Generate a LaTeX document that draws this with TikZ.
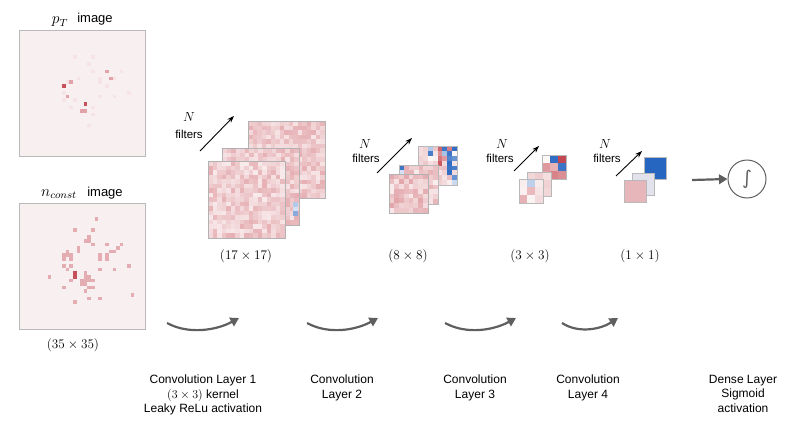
\documentclass[tikz,border=0pt]{standalone}
\usepackage{fontspec}
\setsansfont{Liberation Sans}
\newfontfamily\djv{DejaVu Sans}
\usetikzlibrary{arrows.meta}
\definecolor{bgpix}{RGB}{248,240,240}
\definecolor{pk}{RGB}{196,72,82}
\definecolor{bl}{RGB}{38,102,192}
\definecolor{arr}{RGB}{95,95,95}
\definecolor{lav}{RGB}{226,226,236}
\newcommand\randlayer[8]{%
 \pgfmathsetmacro\cellsz{#3/#4}%
 \pgfmathtruncatemacro\nlast{#4-1}%
 \foreach \i in {0,...,\nlast}{\foreach \j in {0,...,\nlast}{%
   \pgfmathsetmacro\rr{rnd}%
   \ifdim\rr pt<#7pt
     \pgfmathtruncatemacro\vv{#8+(100-#8)*rnd}%
     \fill[bl!\vv!white] ({#1+\i*\cellsz},{#2+\j*\cellsz}) rectangle ++(\cellsz,\cellsz);
   \else
     \pgfmathtruncatemacro\vv{#5+#6*rnd}%
     \fill[pk!\vv!white] ({#1+\i*\cellsz},{#2+\j*\cellsz}) rectangle ++(\cellsz,\cellsz);
   \fi
 }}%
 \draw[gray!60, line width=0.6pt] (#1,#2) rectangle ++(#3,#3);
}
\tikzset{
  lbl/.style={font=\sffamily\fontsize{12}{14.5}\selectfont, align=center, inner sep=0pt},
  imglbl/.style={font=\sffamily\fontsize{13}{15}\selectfont, inner sep=0pt, anchor=base},
  symlbl/.style={font=\fontsize{12}{14}\selectfont, inner sep=0pt, anchor=base, scale=1.3},
  mathlbl/.style={font=\fontsize{12}{14}\selectfont, inner sep=0pt, scale=1.1},
  flbl/.style={font=\sffamily\fontsize{11.5}{13}\selectfont, inner sep=0pt},
  nfarrow/.style={-{Stealth[length=7pt,width=5pt]}, line width=0.9pt, black},
  convarrow/.style={-{Triangle[length=8.5pt,width=9.5pt]}, line width=2.2pt, arr},
  framebox/.style={draw=gray!55, line width=0.7pt},
}
\begin{document}
\begin{tikzpicture}[x=1pt,y=-1pt]
\useasboundingbox (0,0) rectangle (789,444);
\pgfmathsetseed{1234}
% ---------- input images ----------
\fill[bgpix] (19,30) rectangle (145,156);
\foreach \c/\r in {12/15,18/20}
  \fill[pk!95] ({19+\c*3.6},{30+\r*3.6}) rectangle ++(3.6,3.6);
\foreach \c/\r in {17/22,18/22,24/11,25/13,13/18,14/14}
  \fill[pk!50] ({19+\c*3.6},{30+\r*3.6}) rectangle ++(3.6,3.6);
\foreach \c/\r in {26/13,28/11,13/14,14/21,15/19,16/13,15/7,19/9,20/7,20/11,22/14,24/15,22/18,20/21,12/17,19/26,20/23,30/17,26/18,22/13,12/19}
  \fill[pk!15] ({19+\c*3.6},{30+\r*3.6}) rectangle ++(3.6,3.6);
\draw[framebox] (19,30) rectangle (145,156);
\node[symlbl] (ptsym) at (60,24) {$p_T$};
\node[imglbl] (ptimg) at (95,23) {image};

\fill[bgpix] (19,203) rectangle (145,329);
\foreach \c/\r in {15/19,15/20}
  \fill[pk!95] ({19+\c*3.6},{203+\r*3.6}) rectangle ++(3.6,3.6);
\foreach \c/\r in {21/4,15/7,20/7,19/9,18/10,19/10,20/11,24/11,28/11,16/12,16/13,13/13,12/14,13/14,14/14,12/15,14/15,25/13,26/13,27/12,22/14,22/15,24/14,24/15,12/17,14/17,13/18,22/18,26/18,30/17,8/20,14/21,18/19,18/20,19/20,17/21,18/21,19/21,20/21,12/23,17/22,19/23,20/23,18/24,19/26,22/26,15/27,31/25,18/22}
  \fill[pk!45] ({19+\c*3.6},{203+\r*3.6}) rectangle ++(3.6,3.6);
\draw[framebox] (19,203) rectangle (145,329);
\node[symlbl] (ncsym) at (59,196) {$n_{const}$};
\node[imglbl] (ncimg) at (105,196) {image};
\node[mathlbl] (insize) at (73,345) {$(35\times35)$};

% ---------- layer 1 (17x17) ----------
\randlayer{248}{121}{77}{17}{14}{30}{0}{0}
\randlayer{222}{148}{77}{17}{14}{30}{0}{0}
\fill[bl!35!white] (293.3,202.3) rectangle ++(4.53,4.53);
\fill[bl!55!white] (293.3,211.4) rectangle ++(4.53,4.53);
\fill[bl!20!white] (293.3,206.9) rectangle ++(4.53,4.53);
\randlayer{208}{161}{77}{17}{12}{32}{0}{0}
\coordinate (n1s) at (200,151); \coordinate (n1e) at (234,116);
\draw[nfarrow] (n1s) -- (n1e);
\node[mathlbl] (n1N) at (189,117) {$N$};
\node[flbl] (n1f) at (189,134) {filters};
\node[mathlbl] (s1) at (246,256) {$(17\times17)$};

% ---------- layer 2 (8x8) ----------
\def\cy{4.875}
\foreach \col [count=\k from 0] in {
 pk!20,pk!25,bl!35,pk!30,pk!85,bl!90,pk!70,bl!95,
 pk!18,pk!22,bl!85,pk!15,pk!60,bl!40,bl!90,pk!5,
 pk!25,pk!20,pk!5,pk!8,pk!75,pk!55,bl!80,bl!70,
 pk!22,pk!30,pk!18,pk!25,pk!90,pk!20,bl!95,pk!15,
 pk!20,pk!25,pk!20,pk!30,pk!30,pk!35,bl!90,bl!85,
 pk!25,pk!20,pk!22,pk!28,pk!15,pk!25,bl!95,pk!20,
 pk!20,pk!25,pk!20,pk!25,pk!30,pk!15,pk!35,bl!70,
 pk!22,pk!20,pk!25,pk!20,pk!25,pk!20,pk!10,bl!25}{
  \pgfmathtruncatemacro\ci{mod(\k,8)}
  \pgfmathtruncatemacro\ri{div(\k,8)}
  \fill[\col] ({418+\ci*\cy},{146+\ri*\cy}) rectangle ++(\cy,\cy);
}
\draw[framebox] (418,146) rectangle ++(39,39);
\randlayer{399}{165}{39}{8}{10}{35}{0}{0}
\fill[bl!90] (399,165) rectangle ++(\cy,\cy);
\fill[bl!20] (399,169.875) rectangle ++(\cy,\cy);
\draw[framebox] (399,165) rectangle ++(39,39);
\randlayer{389}{174}{39}{8}{12}{38}{0}{0}
\coordinate (n2s) at (377,173); \coordinate (n2e) at (412,138);
\draw[nfarrow] (n2s) -- (n2e);
\node[mathlbl] (n2N) at (365,144) {$N$};
\node[flbl] (n2f) at (366,158) {filters};
\node[mathlbl] (s2) at (408,256) {$(8\times8)$};

% ---------- layer 3 (3x3) ----------
\def\cz{8.2}
\foreach \c/\r/\col in {0/0/pk!4,1/0/bl!95,2/0/pk!100,0/1/pk!55,1/1/pk!42,2/1/bl!90,0/2/pk!50,1/2/pk!68,2/2/pk!62}
  \fill[\col] ({542+\c*\cz},{155+\r*\cz}) rectangle ++(\cz,\cz);
\draw[framebox] (542,155) rectangle ++(24.6,24.6);
\foreach \c/\r/\col in {0/0/pk!22,1/0/pk!28,2/0/pk!18,0/1/pk!30,1/1/pk!20,2/1/pk!25,0/2/pk!18,1/2/pk!26,2/2/pk!22}
  \fill[\col] ({527+\c*\cz},{172+\r*\cz}) rectangle ++(\cz,\cz);
\draw[framebox] (527,172) rectangle ++(24.6,24.6);
\foreach \c/\r/\col in {0/0/pk!10,1/0/bl!30,2/0/pk!12,0/1/pk!8,1/1/pk!38,2/1/pk!15,0/2/pk!42,1/2/pk!6,2/2/pk!20}
  \fill[\col] ({519+\c*\cz},{179+\r*\cz}) rectangle ++(\cz,\cz);
\draw[framebox] (519,179) rectangle ++(24.6,24.6);
\coordinate (n3s) at (514,171); \coordinate (n3e) at (539,146);
\draw[nfarrow] (n3s) -- (n3e);
\node[mathlbl] (n3N) at (502,144) {$N$};
\node[flbl] (n3f) at (500,158) {filters};
\node[mathlbl] (s3) at (530,256) {$(3\times3)$};

% ---------- layer 4 (1x1) ----------
\fill[bl] (644,157) rectangle ++(22,22); \draw[framebox] (644,157) rectangle ++(22,22);
\fill[lav] (632,173) rectangle ++(22,22); \draw[framebox] (632,173) rectangle ++(22,22);
\fill[pk!40] (624,180) rectangle ++(22,22); \draw[framebox] (624,180) rectangle ++(22,22);
\coordinate (n4s) at (616,176); \coordinate (n4e) at (642,151);
\draw[nfarrow] (n4s) -- (n4e);
\node[mathlbl] (n4N) at (605,144) {$N$};
\node[flbl] (n4f) at (607,158) {filters};
\node[mathlbl] (s4) at (640,256) {$(1\times1)$};

% ---------- dense ----------
\node[circle, draw=arr, line width=1pt, minimum size=38pt, inner sep=0pt, text=arr] (dense) at (747,179) {\djv\fontsize{19}{19}\selectfont ∫};
\coordinate (dstart) at (692,180);
\draw[convarrow] (dstart) -- (dense.west);

% ---------- conv arrows ----------
\coordinate (c1s) at (167,323); \coordinate (c1e) at (239,318);
\coordinate (c2s) at (307,323); \coordinate (c2e) at (378,318);
\coordinate (c3s) at (445,323); \coordinate (c3e) at (516,318);
\coordinate (c4s) at (562,323); \coordinate (c4e) at (618,318);
\draw[convarrow] (c1s) .. controls +(22,12) and +(-22,12) .. (c1e);
\draw[convarrow] (c2s) .. controls +(22,12) and +(-22,12) .. (c2e);
\draw[convarrow] (c3s) .. controls +(22,12) and +(-22,12) .. (c3e);
\draw[convarrow] (c4s) .. controls +(17,11) and +(-17,11) .. (c4e);

% ---------- labels ----------
\node[lbl, anchor=north] (L1) at (203,375) {Convolution Layer 1\\$(3\times3)$ kernel\\Leaky ReLu activation};
\node[lbl, anchor=north] (L2) at (342,375) {Convolution\\Layer 2};
\node[lbl, anchor=north] (L3) at (475,375) {Convolution\\Layer 3};
\node[lbl, anchor=north] (L4) at (588,375) {Convolution\\Layer 4};
\node[lbl, anchor=north] (L5) at (743,375) {Dense Layer\\Sigmoid\\activation};
\end{tikzpicture}
\end{document}
